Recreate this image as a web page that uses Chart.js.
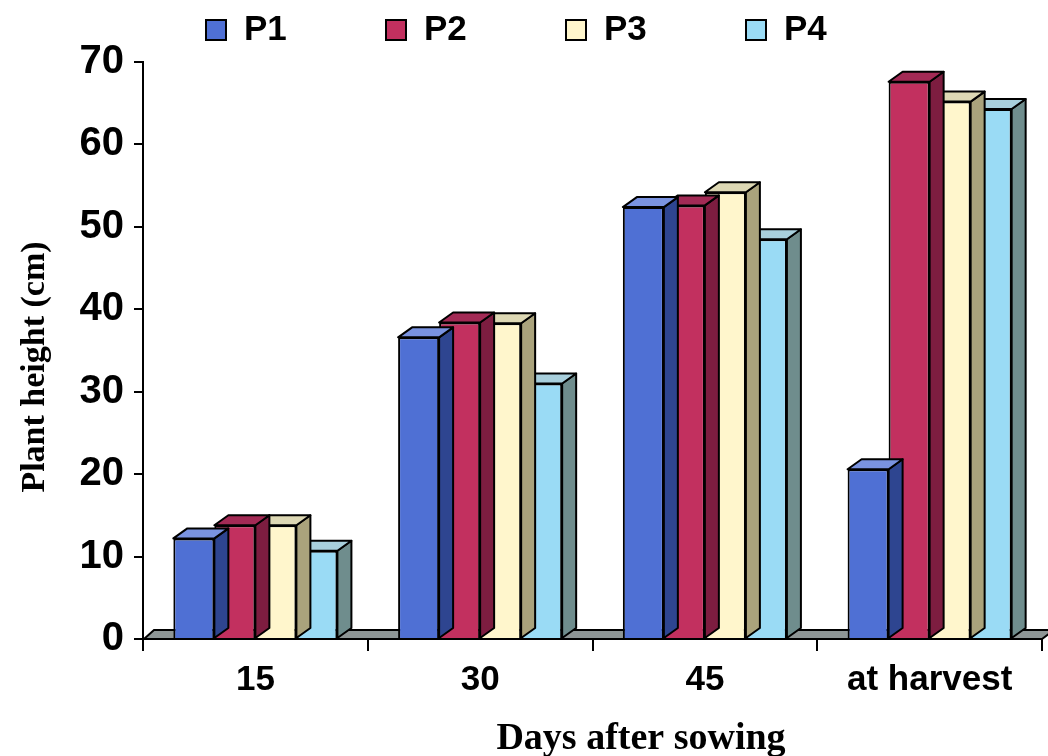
<!DOCTYPE html>
<html>
<head>
<meta charset="utf-8">
<script src="https://cdn.jsdelivr.net/npm/chart.js@4.4.1/dist/chart.umd.min.js"></script>
<style>
  html, body { margin: 0; padding: 0; background: #ffffff; }
</style>
</head>
<body>
<canvas id="c" width="1048" height="756"></canvas>
<script>
const categories = ['15', '30', '45', 'at harvest'];
const seriesNames = ['P1', 'P2', 'P3', 'P4'];
const p1 = [12.2, 36.6, 52.4, 20.6];
const p2 = [13.8, 38.4, 52.6, 67.6];
const p3 = [13.8, 38.3, 54.2, 65.2];
const p4 = [10.7, 31.0, 48.5, 64.3];
const yTicks = [0, 10, 20, 30, 40, 50, 60, 70];
const xTitle = 'Days after sowing';
const yTitle = 'Plant height (cm)';

const frontColors = ['#4f70d4', '#c2305f', '#fff6cc', '#9adbf5'];
const sideColors  = ['#2e4590', '#7d1d40', '#aaa37c', '#6f8d8d'];
const topColors   = ['#7a93e0', '#a32a55', '#ddd8b4', '#a8cfdc'];

const DX = 14, DY = 10;

const depthPlugin = {
  id: 'depth3d',
  beforeDatasetsDraw(chart) {
    const ctx = chart.ctx;
    const a = chart.chartArea;
    const b = chart.scales.y.getPixelForValue(0);
    ctx.save();
    ctx.beginPath();
    ctx.moveTo(a.left + 1, b);
    ctx.lineTo(a.left + 1 + 10, b - 9);
    ctx.lineTo(a.right + 12, b - 9);
    ctx.lineTo(a.right, b);
    ctx.closePath();
    ctx.fillStyle = '#8e9696';
    ctx.fill();
    ctx.lineWidth = 2;
    ctx.strokeStyle = '#000';
    ctx.stroke();
    ctx.restore();
  },
  beforeDatasetDraw(chart, args) {
    const ctx = chart.ctx;
    const i = args.index;
    ctx.save();
    ctx.lineWidth = 2;
    ctx.strokeStyle = '#000';
    ctx.lineJoin = 'round';
    args.meta.data.forEach(bar => {
      const p = bar.getProps(['x', 'y', 'base', 'width'], true);
      const l = p.x - p.width / 2, r = p.x + p.width / 2;
      const y = p.y, base = p.base;
      ctx.beginPath();
      ctx.moveTo(r, y);
      ctx.lineTo(r + DX, y - DY);
      ctx.lineTo(r + DX, base - DY);
      ctx.lineTo(r, base);
      ctx.closePath();
      ctx.fillStyle = sideColors[i];
      ctx.fill();
      ctx.stroke();
      ctx.beginPath();
      ctx.moveTo(l, y);
      ctx.lineTo(l + DX, y - DY);
      ctx.lineTo(r + DX, y - DY);
      ctx.lineTo(r, y);
      ctx.closePath();
      ctx.fillStyle = topColors[i];
      ctx.fill();
      ctx.stroke();
    });
    ctx.restore();
  },
  afterDraw(chart) {
    const ctx = chart.ctx;
    ctx.save();
    ctx.font = 'bold 35px "Liberation Sans", Arial, sans-serif';
    ctx.textBaseline = 'middle';
    ctx.textAlign = 'left';
    seriesNames.forEach((n, i) => {
      const bx = 206 + i * 180, by = 20;
      ctx.fillStyle = frontColors[i];
      ctx.fillRect(bx, by, 20, 20);
      ctx.lineWidth = 2;
      ctx.strokeStyle = '#000';
      ctx.strokeRect(bx, by, 20, 20);
      ctx.fillStyle = '#000';
      ctx.fillText(n, bx + 38, 30);
    });
    ctx.font = 'bold 38px "Liberation Serif", "Times New Roman", serif';
    ctx.textAlign = 'center';
    ctx.textBaseline = 'alphabetic';
    ctx.fillText(xTitle, 641, 749);
    ctx.translate(44, 367);
    ctx.rotate(-Math.PI / 2);
    ctx.font = 'bold 34px "Liberation Serif", "Times New Roman", serif';
    ctx.fillText(yTitle, 0, 0);
    ctx.restore();
  }
};

const seriesData = [p1, p2, p3, p4];
const datasets = seriesNames.map((name, i) => ({
  label: name,
  data: seriesData[i],
  backgroundColor: frontColors[i],
  borderColor: '#000',
  borderWidth: 2,
  borderSkipped: 'start',
  categoryPercentage: 0.73,
  barPercentage: 1.0
}));

new Chart(document.getElementById('c'), {
  type: 'bar',
  data: { labels: categories, datasets },
  options: {
    responsive: false,
    animation: false,
    devicePixelRatio: 1,
    layout: { padding: { left: 0, right: 6, top: 62, bottom: 0 } },
    plugins: {
      legend: { display: false },
      tooltip: { enabled: false }
    },
    scales: {
      x: {
        afterFit(scale) { scale.height = 117; },
        grid: {
          display: true,
          offset: true,
          drawOnChartArea: false,
          drawTicks: true,
          tickLength: 12,
          color: '#000',
          lineWidth: 2
        },
        border: { display: true, color: '#000', width: 2 },
        ticks: {
          color: '#000',
          padding: 8,
          font: { family: '"Liberation Sans", Arial, sans-serif', size: 35, weight: 'bold' }
        }
      },
      y: {
        min: 0,
        max: 70,
        afterBuildTicks(scale) { scale.ticks = yTicks.map(v => ({ value: v })); },
        afterFit(scale) { scale.width = 143; },
        grid: {
          display: true,
          drawOnChartArea: false,
          drawTicks: true,
          tickLength: 9,
          color: '#000',
          lineWidth: 2
        },
        border: { display: true, color: '#000', width: 2 },
        ticks: {
          color: '#000',
          padding: 10,
          font: { family: '"Liberation Sans", Arial, sans-serif', size: 40, weight: 'bold' }
        }
      }
    }
  },
  plugins: [depthPlugin]
});
</script>
</body>
</html>
